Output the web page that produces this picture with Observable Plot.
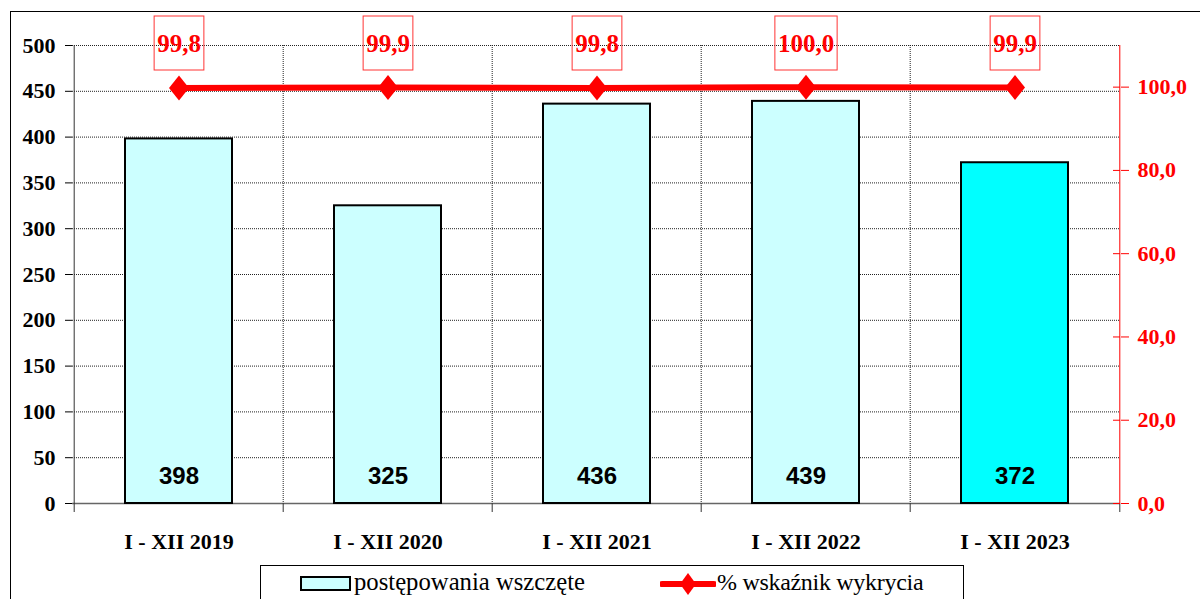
<!DOCTYPE html>
<html>
<head>
<meta charset="utf-8">
<script src="https://cdn.jsdelivr.net/npm/d3@7"></script>
<script src="https://cdn.jsdelivr.net/npm/@observablehq/plot@0.6"></script>
<style>
  html, body { margin: 0; padding: 0; background: #fff; }
  #wrap { position: relative; width: 1200px; height: 599px; overflow: hidden; background: #fff; }
  #frame { position: absolute; left: 10px; top: 11px; width: 1300px; height: 700px; border: 1.5px solid #000; box-sizing: border-box; pointer-events: none; }
  #chart { position: absolute; left: 0; top: 0; }
  #legend { position: absolute; left: 260px; top: 565px; width: 704px; height: 60px; border: 1.5px solid #000; box-sizing: border-box; background: #fff; color: #000; }
  .sw1 { position: absolute; left: 39px; top: 10px; width: 51px; height: 15px; background: #CCFFFF; border: 2px solid #000; box-sizing: border-box; }
  .lt { position: absolute; top: 3px; white-space: nowrap; line-height: 26px; font-family: 'Liberation Serif', 'Times New Roman', 'DejaVu Serif', serif; font-size: 24px; }
  .sw2 { position: absolute; left: 399px; top: 7px; }
</style>
</head>
<body>
<div id="wrap">
  <div id="chart"></div>
  <div id="frame"></div>
  <div id="legend">
    <div class="sw1"></div>
    <div class="lt" style="left:93px; font-size:24.7px;">postępowania wszczęte</div>
    <svg class="sw2" width="56" height="22"><line x1="2" y1="11" x2="54" y2="11" stroke="#FF0000" stroke-width="6" stroke-linecap="round"/><path d="M28,0 L36,11 L28,22 L20,11 Z" fill="#FF0000"/></svg>
    <div class="lt" style="left:456px; letter-spacing:-0.3px;">% wskaźnik wykrycia</div>
  </div>
</div>
<script>
// ---- data ----
const categories = ["I - XII 2019", "I - XII 2020", "I - XII 2021", "I - XII 2022", "I - XII 2023"];
const cases = [398, 325, 436, 439, 372];
const detection = [99.8, 99.9, 99.8, 100.0, 99.9];
const leftTicks = [0, 50, 100, 150, 200, 250, 300, 350, 400, 450, 500];
const rightTicks = [0, 20, 40, 60, 80, 100];
const leftMax = 500;
const rightMax = 110;

// ---- layout ----
const W = 1200, H = 560, mL = 72, mR = 80, mT = 45, mB = 57;
const frameW = W - mL - mR, frameH = H - mT - mB;
const step = frameW / categories.length;
const k = leftMax / rightMax; // right (percent) axis mapped onto the left scale

const rows = categories.map((c, i) => ({cat: c, cases: cases[i], pct: detection[i]}));
const fmt1 = v => d3.format(".1f")(v).replace(".", ",");
const serif = "'Liberation Serif', 'Times New Roman', serif";

const diamond = {
  draw(ctx, size) {
    const r = Math.sqrt(size / Math.PI);
    ctx.moveTo(0, -r); ctx.lineTo(0.8 * r, 0); ctx.lineTo(0, r); ctx.lineTo(-0.8 * r, 0); ctx.closePath();
  }
};
const last = categories[categories.length - 1];

const chart = Plot.plot({
  width: W, height: H, marginLeft: mL, marginRight: mR, marginTop: mT, marginBottom: mB,
  style: {fontFamily: serif, fontSize: "22px", fontWeight: "bold", background: "transparent", color: "#000"},
  x: {domain: categories, paddingInner: 0.49, paddingOuter: 0.245, axis: null, label: null},
  y: {domain: [0, leftMax], axis: null, label: null},
  color: {type: "identity"},
  marks: [
    Plot.ruleY(leftTicks.filter(v => v > 0), {stroke: "#222", strokeDasharray: "1,1"}),
    Plot.ruleX(categories.slice(1), {x: d => d, dx: -step / 2, stroke: "#222", strokeDasharray: "1,1"}),
    Plot.ruleY([0], {stroke: "#666", strokeWidth: 1.5}),
    Plot.ruleX(categories, {x: d => d, dx: -step / 2, insetTop: frameH, insetBottom: -9, stroke: "#333"}),
    Plot.ruleX([last], {x: d => d, dx: step / 2, insetTop: frameH, insetBottom: -9, stroke: "#333"}),
    Plot.ruleX([categories[0]], {x: d => d, dx: -step / 2, stroke: "#333"}),
    Plot.ruleX([last], {x: d => d, dx: step / 2, stroke: "#FF0000"}),
    Plot.ruleY(rightTicks.map(v => v * k), {insetLeft: frameW - 7, stroke: "#FF0000"}),
    Plot.axisY(leftTicks, {anchor: "left", label: null, tickSize: 7, tickPadding: 10, fontSize: 22, fontWeight: "bold", tickFormat: d => String(d)}),
    Plot.axisY(rightTicks.map(v => v * k), {anchor: "right", label: null, tickSize: 8, tickPadding: 9, fontSize: 22, fontWeight: "bold", color: "#FF0000", tickFormat: v => fmt1(v / k)}),
    Plot.axisX({label: null, tickSize: 0, tickPadding: 30, fontSize: 22, fontWeight: "bold"}),
    Plot.barY(rows, {x: "cat", y: "cases", fill: (d, i) => i === rows.length - 1 ? "#00FFFF" : "#CCFFFF", stroke: "#000", strokeWidth: 2}),
    Plot.text(rows, {x: "cat", y: 0, text: d => String(d.cases), dy: -27, fontFamily: "'Liberation Sans', Arial, sans-serif", fontSize: 24, fontWeight: "bold", fill: "#000"}),
    Plot.line(rows, {x: "cat", y: d => d.pct * k, stroke: "#FF0000", strokeWidth: 6}),
    Plot.dot(rows, {x: "cat", y: d => d.pct * k, symbol: diamond, r: 12.5, fill: "#FF0000", stroke: "none"}),
    Plot.text(rows, {x: "cat", frameAnchor: "top", lineAnchor: "middle", dy: -2, text: d => fmt1(d.pct), fontSize: 25, fontWeight: "bold", fill: "#FF0000"})
  ]
});
document.getElementById("chart").appendChild(chart);

// boxes around the percentage labels, sized from the rendered text
chart.querySelectorAll('g[font-size="25"] text').forEach(t => {
  const b = t.getBBox();
  const r = document.createElementNS("http://www.w3.org/2000/svg", "rect");
  r.setAttribute("x", b.x - 3);
  r.setAttribute("y", b.y + b.height / 2 - 27);
  r.setAttribute("width", b.width + 6);
  r.setAttribute("height", 54);
  r.setAttribute("fill", "none");
  r.setAttribute("stroke", "#FF3333");
  r.setAttribute("stroke-width", 1);
  const tr = t.getAttribute("transform");
  if (tr) r.setAttribute("transform", tr);
  t.parentNode.insertBefore(r, t);
});
</script>
</body>
</html>
